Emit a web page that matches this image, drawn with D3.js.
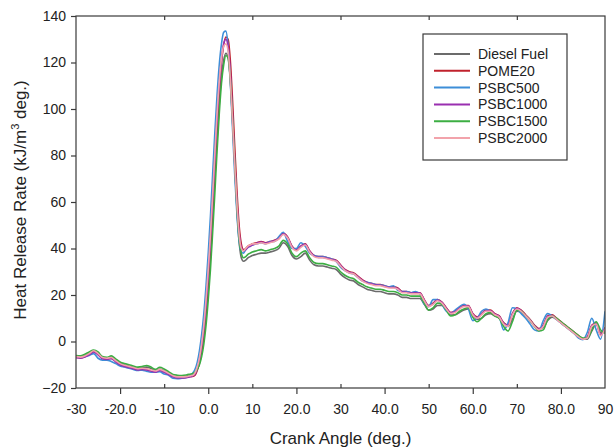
<!DOCTYPE html>
<html>
<head>
<meta charset="utf-8">
<script src="https://cdn.jsdelivr.net/npm/d3@7"></script>
<style>
  html, body { margin: 0; padding: 0; background: #fff; }
  svg { display: block; font-family: "Liberation Sans", Arial, sans-serif; }
</style>
</head>
<body>
<svg id="chart" width="614" height="448"></svg>
<script>
// ---- data ----
const crankAngle = [
  -30,-29,-28,-27,-26,-25,-24,-23,-22,-21,-20,-19,-18,-17,-16,-15,-14,-13,-12,-11,-10,-9,-8,-7,-6,-5,-4,
  -3.5,-3,-2.5,-2,-1.5,-1,-0.5,0,0.5,1,1.5,2,2.5,3,3.5,4,4.5,5,5.5,6,6.5,7,7.5,8,8.5,9,9.5,10,
  11,12,13,14,15,16,17,18,19,20,21,22,23,24,25,26,27,28,29,30,31,32,33,34,35,36,37,38,39,40,
  41,42,43,44,45,46,47,48,49,50,51,52,53,54,55,56,57,58,59,60,61,62,63,64,65,66,67,68,69,70,
  71,72,73,74,75,76,77,78,79,80,81,82,83,84,85,86,87,88,89,90
];

const dieselFuel = [
  -6.3,-6.5,-6,-5,-4.2,-5,-7,-7.2,-6.8,-8,-9.3,-10,-10.5,-11,-11.5,-11.3,-11,-11.6,-12.5,-11.8,-12.5,-13.5,-14.6,-15,-15,-14.8,-14.4,
  -14,-13.5,-12,-9.5,-5,1.5,11,22,36,52,70,87,102,114,121,124,122,112,95,76,57,43,36,34.5,35,36,36.5,37,
  37.5,38,38,38.5,39,40,42.5,41,37,35.5,
  36.5,38,35,33,32.5,32.5,32,31.5,31,29,
  27.5,26.5,26,24.5,23.5,22.5,22,21.5,21.5,21,
  20.5,20.5,20,19,19,18.5,18.5,18.5,16,13.5,
  14,15.5,15.5,13.5,11.5,11.5,12.5,13.5,14,11.5,
  9.5,10,11.5,12,11,10,8,6.5,9.5,13,
  12.5,11,9,7,5.5,6,9,10.5,9.5,8,
  6.5,5,3.5,2,1,1,4.5,7.5,4,4.5
];

const pome20 = [
  -6.8,-7,-6.5,-5.5,-4.3,-5.5,-7.2,-7.5,-7.2,-8.5,-9.8,-10.5,-11,-11.5,-12,-11.8,-12,-12.5,-13,-12.3,-13,-14,-15,-15.5,-15.5,-15.4,-15,
  -15,-14.5,-12.5,-9,-4,3,13,25,40,57,75,93,108,120,127.5,131,130,121,104,84,65,50,42,39.5,40,41,41.5,42,
  42.5,43,42.5,43,43.5,44.5,46.5,45,41,39.5,
  41,42,39,37,36.5,36.5,36,35.5,35,33,
  31,30,29.5,28,26.5,25.5,25,24.5,24.5,24,
  23.5,23.5,23,21.5,21.5,21,21,21,18,15.5,
  16.5,18,17,14.5,12.5,13,14.5,15.5,15.5,12,
  10.5,12,13.5,13.5,12,11,8,7,12,14.5,
  13.5,11.5,9.5,7,5.5,7,11,11.5,10,8.5,
  7,5.5,4,2.5,1.2,2,7,8,3,6
];

const psbc500 = [
  -6.5,-6.8,-6.5,-6,-5.2,-7.2,-8,-8,-8.6,-9.5,-10.5,-11,-11.5,-12,-12.5,-12.3,-12.8,-13.2,-13.2,-13,-14,-14.5,-15.8,-16,-15.8,-15.5,-14.5,
  -13.5,-12,-9,-4,3,12,24,38,54,72,90,106,119,128,133,133.5,127,112,92,72,55,43,38.5,38,39.5,40.5,41,41.5,
  42,42.5,42,43,43,45,47,43,40,40,
  42.5,41,38,37,36.5,36.5,36,35.5,34.5,32,
  30.5,29.5,29,27.5,26,25.5,25,24.5,24.3,24,
  23.5,24,22,21.5,21.5,21,21.5,20.5,16,15,
  18,18,16,13,12,13.5,15,16,14,9,
  10,13,14,13,11.5,10.5,5,8,14.5,14,
  12,10,7.5,5,4.5,9,12,11,9.5,8,
  6.5,5,3.5,1.5,0.8,4,10,5,1,13
];

const psbc1000 = [
  -7,-7.2,-6.7,-5.7,-4.5,-5.7,-7.4,-7.7,-7.4,-8.7,-10,-10.7,-11.2,-11.7,-12.2,-12,-12.2,-12.7,-13.2,-12.5,-13.2,-14.2,-15.2,-15.7,-15.7,-15.6,-15.2,
  -14.8,-14,-11.8,-8,-2.5,5,15.5,28,43,60,78,96,110,121,128,130,127,116,98,78,60,47,40.5,39,39.5,40.5,41,41.5,
  42.3,42.8,42.3,42.8,43.3,44.3,46.3,44.8,40.8,39.3,
  41,41.8,38.8,36.8,36.2,36.2,35.8,35.3,34.8,32.8,
  30.8,29.8,29.2,27.8,26.3,25.3,24.8,24.3,24.2,23.8,
  23.3,23.2,22.8,21.3,21.2,20.8,20.8,20.8,17.8,15.2,
  16.2,17.8,16.8,14.3,12.3,12.8,14.3,15.3,15.2,11.8,
  10.2,11.8,13.3,13.2,11.8,10.8,7.8,6.8,11.8,14.3,
  13.2,11.2,9.2,6.8,5.2,6.8,10.8,11.2,9.8,8.2,
  6.8,5.2,3.8,2.2,1.1,1.8,6.8,7.8,2.8,5.8
];

const psbc1500 = [
  -6,-6.2,-5.5,-4.5,-3.7,-4.5,-6.5,-6.8,-6.2,-7.5,-8.8,-9.5,-10,-10.5,-11,-10.8,-10.3,-11,-12,-11.1,-11.8,-13,-14.2,-14.5,-14.6,-14.4,-14,
  -13.8,-13.2,-12,-10,-6.5,-1,7,18,31,47,64,82,98,111,119,123,122,113,96,77,58,44.5,38,36,36.5,37.5,38,38.5,
  39,39.5,39,39.5,40,41,43.5,42,38,36.5,
  38,39,36,34,33.5,33.5,33,32.5,32,30,
  28.5,27.5,27,25.5,24.5,23.5,23,22.5,22.5,22,
  21.5,21.5,21,20,20,19.5,19.5,19.5,16.5,13.5,
  14.5,16.5,16,13.5,11,11.5,13,14,14.5,10.5,
  8.5,10,12,12.5,11,10,6.5,4.5,8.5,13.5,
  13,11,9,6.5,4.5,5,9.5,11,10,8.5,
  7,5.5,4,2.5,1.5,1.5,5,8.5,5,3.5
];

const psbc2000 = [
  -6.5,-6.7,-6.2,-5.2,-4,-5.2,-6.9,-7.2,-6.9,-8.2,-9.5,-10.2,-10.7,-11.2,-11.7,-11.5,-11.7,-12.2,-12.7,-12,-12.7,-13.7,-14.7,-15.2,-15.2,-15.1,-14.7,
  -14.5,-13.5,-11,-7,-1,7,18,31,46,63,81,98,112,122,127,128,125,113,95,76,59,46,40,39,40,41,41.5,42,
  42,42.5,42,42.5,43,44,46,44.5,40.5,39,
  40.5,41.5,38.5,36.5,36,36,35.5,35,34.5,32.5,
  30.5,29.5,29,27.5,26,25,24.5,24,24,23.5,
  23,23,22.5,21,21,20.5,20.5,20.5,17.5,15,
  16,17.5,16.5,14,12,12.5,14,15,15,11.5,
  10,11.5,13,13,11.5,10.5,7.5,6.5,11.5,14,
  13,11,9,6.5,5,6.5,10.5,11,9.5,8,
  6.5,5,3.5,2,1,1.5,6.5,7.5,2.5,5.5
];

const seriesNames = ["Diesel Fuel", "POME20", "PSBC500", "PSBC1000", "PSBC1500", "PSBC2000"];
const seriesValues = [dieselFuel, pome20, psbc500, psbc1000, psbc1500, psbc2000];
const seriesColors = ["#6b6b6b", "#c0222c", "#3d8ed8", "#9a2fb0", "#3cae43", "#f2a3ab"];

const xTickValues = [-30,-20,-10,0,10,20,30,40,50,60,70,80,90];
const xTickLabels = ["-30","-20.0","-10","0.0","10","20.0","30","40.0","50","60.0","70","80.0","90"];
const xMajorTicks = [-20,0,20,40,60,80];
const xMinorTicks = [-10,10,30,50,70];
const yTickValues = [-20,0,20,40,60,80,100,120,140];

// ---- layout ----
const W = 614, H = 448;
const m = { left: 76, top: 16, right: 9, bottom: 60 };
const pw = W - m.left - m.right, ph = H - m.top - m.bottom;
const FONT = "'Liberation Sans', Arial, sans-serif";

const svg = d3.select("#chart");
const g = svg.append("g").attr("transform", `translate(${m.left},${m.top})`);

const x = d3.scaleLinear().domain([-30, 90]).range([0, pw]);
const y = d3.scaleLinear().domain([-20, 140]).range([ph, 0]);

const axisColor = "#3a3a3a";
const textColor = "#222";

svg.append("defs").append("clipPath").attr("id", "clip")
  .append("rect").attr("x", 0).attr("y", 0).attr("width", pw).attr("height", ph);

// lines
const line = d3.line()
  .x((d, i) => x(crankAngle[i]))
  .y(d => y(d))
  .curve(d3.curveMonotoneX);

const lines = g.append("g").attr("clip-path", "url(#clip)");
seriesValues.forEach((vals, k) => {
  lines.append("path")
    .datum(vals)
    .attr("fill", "none")
    .attr("stroke", seriesColors[k])
    .attr("stroke-width", 1.6)
    .attr("stroke-linejoin", "round")
    .attr("d", line);
});

// frame
g.append("rect").attr("x", 0).attr("y", 0).attr("width", pw).attr("height", ph)
  .attr("fill", "none").attr("stroke", axisColor).attr("stroke-width", 1.2);

// bottom axis labels + outward major ticks
const xLabelAxis = d3.axisBottom(x).tickValues(xTickValues)
  .tickFormat((d, i) => xTickLabels[i]).tickSize(0).tickPadding(16);
const gx = g.append("g").attr("transform", `translate(0,${ph})`).call(xLabelAxis);
gx.select(".domain").remove();
gx.selectAll("text").attr("font-size", 14).attr("fill", textColor).attr("font-family", FONT);

const gxMaj = g.append("g").attr("transform", `translate(0,${ph})`)
  .call(d3.axisBottom(x).tickValues(xMajorTicks).tickSize(6).tickFormat(""));
gxMaj.select(".domain").remove();
gxMaj.selectAll("line").attr("stroke", axisColor).attr("stroke-width", 1.2);

const gxMin = g.append("g").attr("transform", `translate(0,${ph})`)
  .call(d3.axisBottom(x).tickValues(xMinorTicks).tickSize(-4).tickFormat(""));
gxMin.select(".domain").remove();
gxMin.selectAll("line").attr("stroke", axisColor).attr("stroke-width", 1.2);

const gxTop = g.append("g")
  .call(d3.axisTop(x).tickValues(xMinorTicks).tickSize(-4).tickFormat(""));
gxTop.select(".domain").remove();
gxTop.selectAll("line").attr("stroke", axisColor).attr("stroke-width", 1.2);

// left axis
const gy = g.append("g").call(d3.axisLeft(y).tickValues(yTickValues).tickSize(5).tickPadding(5));
gy.select(".domain").remove();
gy.selectAll("line").attr("stroke", axisColor).attr("stroke-width", 1.2);
gy.selectAll("text").attr("font-size", 14).attr("fill", textColor).attr("font-family", FONT);

// axis titles
svg.append("text")
  .attr("x", m.left + pw / 2).attr("y", 444)
  .attr("text-anchor", "middle").attr("font-size", 17).attr("fill", textColor)
  .attr("font-family", FONT)
  .text("Crank Angle (deg.)");

const yt = svg.append("text")
  .attr("transform", `translate(26,${m.top + ph / 2 - 2}) rotate(-90)`)
  .attr("text-anchor", "middle").attr("font-size", 17).attr("fill", textColor)
  .attr("font-family", FONT);
yt.append("tspan").text("Heat Release Rate (kJ/m");
yt.append("tspan").attr("dy", -7).attr("font-size", 11).text("3");
yt.append("tspan").attr("dy", 7).text(" deg.)");

// legend
const lg = svg.append("g");
lg.append("rect").attr("x", 423).attr("y", 34).attr("width", 144).attr("height", 126)
  .attr("fill", "#fff").attr("stroke", axisColor).attr("stroke-width", 1.2);
seriesNames.forEach((name, k) => {
  const yy = 54 + k * 16.8;
  lg.append("line").attr("x1", 434).attr("x2", 470).attr("y1", yy).attr("y2", yy)
    .attr("stroke", seriesColors[k]).attr("stroke-width", 2);
  lg.append("text").attr("x", 478).attr("y", yy).attr("dy", "0.35em")
    .attr("font-size", 14).attr("fill", textColor).attr("font-family", FONT).text(name);
});
</script>
</body>
</html>
